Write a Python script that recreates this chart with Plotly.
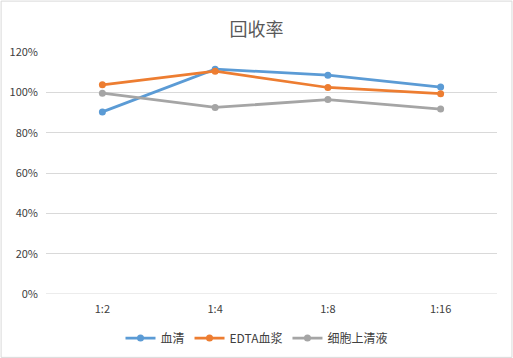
import plotly.graph_objects as go

categories = ["1:2", "1:4", "1:8", "1:16"]
serum = [0.903, 1.115, 1.085, 1.026]
edta_plasma = [1.037, 1.105, 1.024, 0.993]
cell_supernatant = [0.996, 0.925, 0.964, 0.917]
series_names = ["血清", "EDTA血浆", "细胞上清液"]
colors = ["#5B9BD5", "#ED7D31", "#A5A5A5"]
y_ticks = [0, 0.2, 0.4, 0.6, 0.8, 1.0, 1.2]

W, H = 513, 358
ml, mr, mt, mb = 45.5, 15.5, 51.5, 64
pw, ph = W - ml - mr, H - mt - mb

fig = go.Figure()
for name, vals, c in zip(series_names, [serum, edta_plasma, cell_supernatant], colors):
    fig.add_trace(go.Scatter(
        x=categories, y=vals, name=name, mode="lines+markers",
        line=dict(color=c, width=2.75),
        marker=dict(color=c, size=7),
    ))

fig.update_layout(
    width=W, height=H,
    margin=dict(l=ml, r=mr, t=mt, b=mb),
    paper_bgcolor="white", plot_bgcolor="white",
    font=dict(family="Noto Sans CJK SC, Liberation Sans, sans-serif", color="#595959", size=11),
    title=dict(text="回收率", x=0.5, xanchor="center", y=1 - 30 / H, yanchor="middle",
               font=dict(size=18, color="#595959")),
    showlegend=True,
    legend=dict(orientation="h", xref="container", yref="container",
                x=0.5, xanchor="center", y=1 - 338 / H, yanchor="middle",
                font=dict(size=12, color="#404040"),
                itemwidth=30, tracegroupgap=0, traceorder="normal"),
    xaxis=dict(type="category", range=[-0.5, 3.5], showgrid=False, showline=False,
               ticks="", automargin=False, ticklabelstandoff=7,
               tickfont=dict(size=11, color="#404040")),
    yaxis=dict(range=[0, 1.2], tickvals=y_ticks, tickformat=".0%", showgrid=True,
               gridcolor="#D9D9D9", gridwidth=1, zeroline=False, showline=False,
               ticks="", automargin=False, ticklabelstandoff=7,
               tickfont=dict(size=11, color="#404040")),
    shapes=[dict(type="line", xref="paper", yref="y", x0=0, x1=1, y0=0, y1=0,
                 line=dict(color="#D9D9D9", width=1)),
            dict(type="rect", xref="paper", yref="paper",
                 x0=-(ml - 0.5) / pw, x1=1 + (mr - 0.5) / pw,
                 y0=-(mb - 0.5) / ph, y1=1 + (mt - 0.5) / ph,
                 line=dict(color="#D9D9D9", width=1))],
)

fig.write_html(
    "out.html",
    config={"displayModeBar": False},
    post_script="document.body.style.margin='0';document.body.style.padding='0';"
                "document.body.style.overflow='hidden';",
)
